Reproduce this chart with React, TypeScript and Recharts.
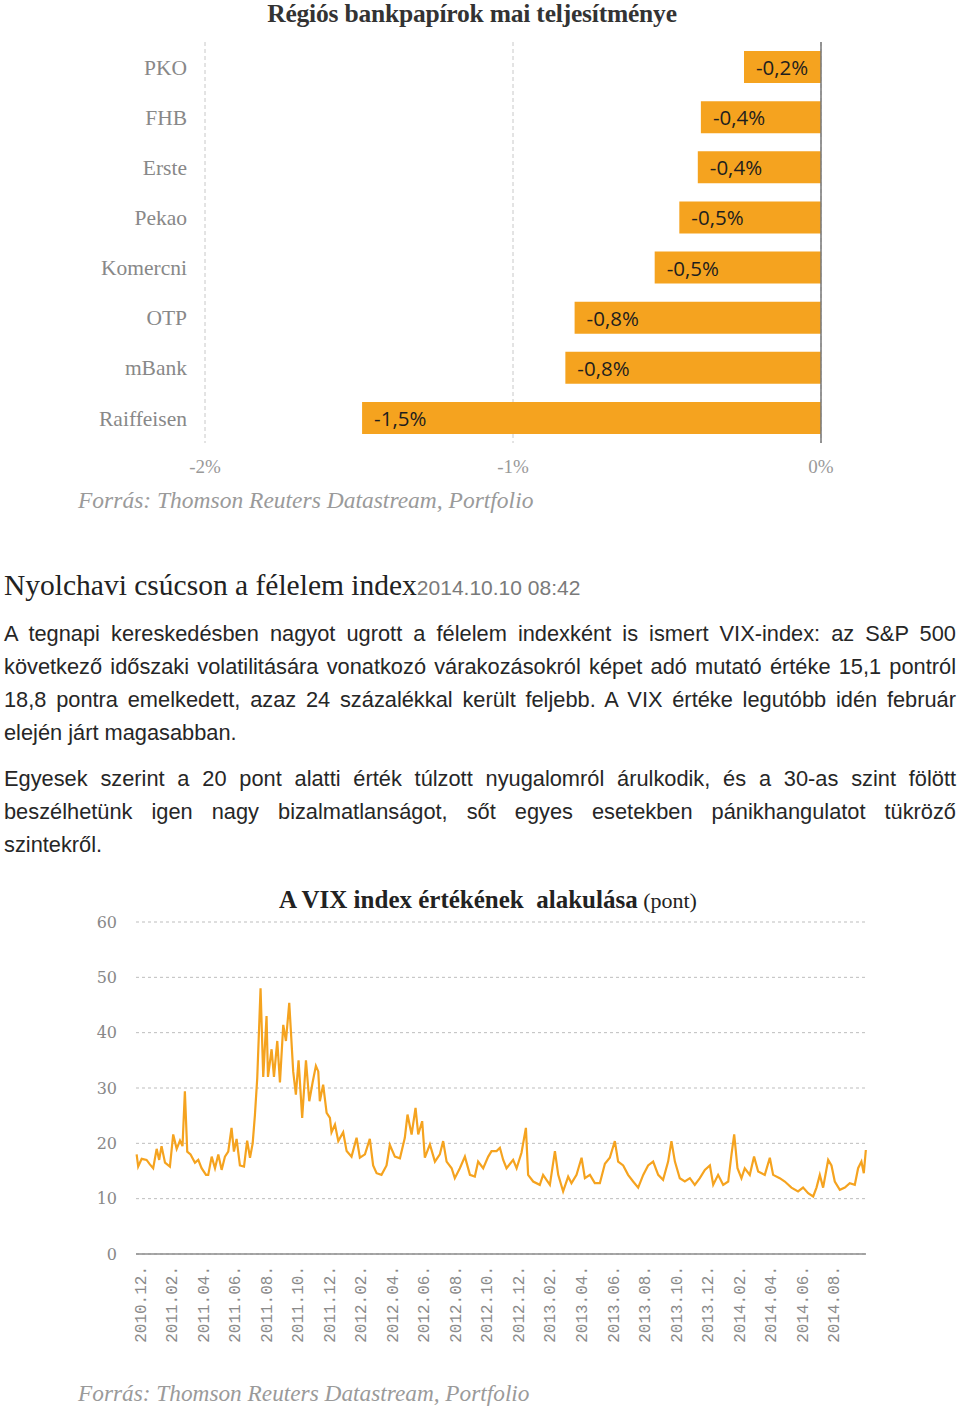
import React from 'react';
import {
  BarChart, Bar, XAxis, YAxis, CartesianGrid, ReferenceLine, LabelList,
  LineChart, Line,
} from 'recharts';

// ---- Top chart: regional bank shares ----
const bankNames = ['PKO', 'FHB', 'Erste', 'Pekao', 'Komercni', 'OTP', 'mBank', 'Raiffeisen'];
const bankChanges = [-0.25, -0.39, -0.40, -0.46, -0.54, -0.80, -0.83, -1.49];
const bankLabels = ['-0,2%', '-0,4%', '-0,4%', '-0,5%', '-0,5%', '-0,8%', '-0,8%', '-1,5%'];
const bankTicks = [-2, -1, 0];
const bankTickLabels = ['-2%', '-1%', '0%'];

// ---- Bottom chart: VIX (x = months since 2010.12.) ----
const vixMonths = [
  -0.21, -0.11, 0.11, 0.42, 0.63, 0.84, 1.06, 1.22, 1.37, 1.59, 1.90, 2.11, 2.33, 2.54, 2.70, 2.85,
  3.00, 3.21, 3.49, 3.70, 3.91, 4.19, 4.33, 4.55, 4.76, 4.97, 5.18, 5.39, 5.60, 5.81, 5.96, 6.13,
  6.34, 6.60, 6.80, 6.98, 7.15, 7.29, 7.44, 7.65, 7.82, 8.03, 8.12, 8.35, 8.50, 8.71, 8.88, 9.09,
  9.26, 9.47, 9.72, 9.89, 10.06, 10.29, 10.53, 10.74, 10.95, 11.16,
  11.31, 11.41, 11.62, 11.84, 12.05, 12.15, 12.37, 12.58, 12.89, 13.11, 13.42, 13.74, 13.95, 14.27,
  14.58, 14.79, 15.01, 15.32, 15.64, 15.85, 16.17, 16.49, 16.80, 16.97, 17.23, 17.48, 17.65, 17.90,
  18.07, 18.39, 18.71, 19.02, 19.23, 19.45, 19.77, 19.97, 20.29, 20.61, 20.93, 21.24, 21.45, 21.77,
  22.09, 22.30, 22.62, 22.83,
  23.04, 23.25, 23.67, 23.89, 24.20, 24.48, 24.62, 24.94, 25.36, 25.57, 26.00, 26.32, 26.53, 26.84,
  27.16, 27.37, 27.69, 28.01, 28.22, 28.54, 28.85, 29.17, 29.49, 29.80, 30.12, 30.33, 30.65, 30.96,
  31.28, 31.60, 31.92, 32.23, 32.55, 32.87, 33.18, 33.50, 33.71, 33.93, 34.24, 34.56,
  34.88, 35.19, 35.51, 35.83, 36.15, 36.36, 36.67, 36.99, 37.31, 37.52, 37.69, 37.90, 38.15, 38.36,
  38.68, 38.95, 39.21, 39.63, 39.95, 40.16, 40.58, 40.90, 41.32, 41.74, 42.06, 42.38, 42.70, 42.91,
  43.12, 43.33, 43.65, 43.86, 44.07, 44.39, 44.71, 45.02, 45.34, 45.55, 45.76, 45.91, 46.04,
];
const vixValues = [
  18, 15.8, 17.2, 17, 16.2, 15.5, 19, 17, 19.5, 16.5, 15.8, 21.6, 19, 20.5, 19.5, 29.4,
  18.5, 18, 16.5, 17, 15.5, 14.3, 14.3, 17.6, 15.5, 18, 15.2, 17.6, 18.5, 22.8, 18.5, 20.8,
  16, 15.8, 20.5, 17.4, 20, 25, 31.8, 48, 32, 43, 32, 37, 32, 38.5, 31, 41.4,
  38.5, 45.4, 33, 28.8, 35, 24.6, 35, 27.6, 31, 34,
  33, 27.6, 30.6, 25.5, 24.6, 22, 23.4, 20.4, 22, 18.6, 17.6, 21, 17.4, 18,
  20.8, 16, 14.6, 14.3, 16, 19.7, 17.6, 17.3, 21, 25.2, 21.6, 26.4, 21.6, 24,
  17.4, 19.8, 16.7, 18, 20.4, 16.7, 15.5, 13.7, 15.5, 17.6, 14.3, 14, 16.7, 15.5,
  17.6, 18.6, 18.6, 19.2,
  17, 15.5, 17, 15.5, 18.3, 22.8, 14.3, 13.1, 12.5, 14.3, 12.5, 18.6, 14.3, 11.3,
  14, 12.8, 14.3, 17.4, 13.7, 14.3, 12.8, 12.8, 16.3, 17.4, 20.4, 16.7, 16, 14.3,
  13.1, 12, 14.3, 16, 16.7, 14.3, 13.4, 16.7, 20.4, 16.7, 13.7, 13.1,
  13.7, 12.5, 13.7, 15.2, 16, 12.5, 14.3, 12.5, 13.1, 18, 21.6, 15.5, 13.7, 15.5,
  14.3, 17.6, 14.9, 14.3, 17.4, 14.3, 13.7, 13.1, 12, 11.3, 12, 11, 10.4, 12,
  14.3, 12, 17, 16, 13.1, 11.6, 12, 12.8, 12.5, 15.5, 16.7, 14.6, 18.8,
];
const vixTickMonths = [0, 2, 4, 6, 8, 10, 12, 14, 16, 18, 20, 22, 24, 26, 28, 30, 32, 34, 36, 38, 40, 42, 44];
const vixTickLabels = [
  '2010.12.', '2011.02.', '2011.04.', '2011.06.', '2011.08.', '2011.10.', '2011.12.',
  '2012.02.', '2012.04.', '2012.06.', '2012.08.', '2012.10.', '2012.12.',
  '2013.02.', '2013.04.', '2013.06.', '2013.08.', '2013.10.', '2013.12.',
  '2014.02.', '2014.04.', '2014.06.', '2014.08.',
];
const vixYTicks = [0, 10, 20, 30, 40, 50, 60];

const bankData = bankNames.map((name, i) => ({ name, value: bankChanges[i], label: bankLabels[i] }));
const n = Math.min(vixMonths.length, vixValues.length);
const vixData = vixMonths.slice(0, n).map((t, i) => ({ t, v: vixValues[i] }));

const ORANGE = '#F5A31F';

const BarValueLabel = (props: any) => {
  const { x, y, width, height, value } = props;
  const left = Math.min(Number(x), Number(x) + Number(width));
  return (
    <text x={left + 12} y={Number(y) + Number(height) / 2} dominantBaseline="central"
      fontFamily="'Open Sans', sans-serif" fontSize={20.5} fill="#1e1e1e">
      {value}
    </text>
  );
};

const VixTick = (props: any) => {
  const { x, y, payload } = props;
  const idx = vixTickMonths.indexOf(payload.value);
  return (
    <text x={x} y={y} transform={`rotate(-90, ${x}, ${y})`} textAnchor="end" dy="0.35em"
      fontFamily="'Liberation Mono', monospace" fontSize={16} fill="#8a8a8a">
      {idx >= 0 ? vixTickLabels[idx] : ''}
    </text>
  );
};

const para1 = [
  'A tegnapi kereskedésben nagyot ugrott a félelem indexként is ismert VIX-index: az S&P 500',
  'következő időszaki volatilitására vonatkozó várakozásokról képet adó mutató értéke 15,1 pontról',
  '18,8 pontra emelkedett, azaz 24 százalékkal került feljebb. A VIX értéke legutóbb idén február',
  'elején járt magasabban.',
];
const para2 = [
  'Egyesek szerint a 20 pont alatti érték túlzott nyugalomról árulkodik, és a 30-as szint fölött',
  'beszélhetünk igen nagy bizalmatlanságot, sőt egyes esetekben pánikhangulatot tükröző',
  'szintekről.',
];

const TextLine = ({ text, top, last }: { text: string; top: number; last: boolean }) => (
  <div style={{
    position: 'absolute', left: 4, top, width: 952, height: 33, lineHeight: '33px',
    fontFamily: "'Liberation Sans', Arial, sans-serif", fontSize: 21.8, color: '#262626',
    whiteSpace: 'nowrap', textAlign: last ? 'left' : 'justify',
    textAlignLast: last ? 'left' : 'justify',
  } as React.CSSProperties}>{text}</div>
);

export default function App() {
  return (
    <div style={{ position: 'absolute', left: 0, top: 0, width: 960, height: 1413, background: '#fff', overflow: 'hidden' }}>
      {/* Top chart title */}
      <div style={{
        position: 'absolute', left: 0, top: 0, width: 944, textAlign: 'center', lineHeight: '28px',
        fontFamily: "'Liberation Serif', serif", fontWeight: 'bold', fontSize: 25.5, color: '#333', letterSpacing: -0.2,
      }}>Régiós bankpapírok mai teljesítménye</div>

      <div style={{ position: 'absolute', left: 0, top: 0 }}>
        <BarChart width={960} height={490} layout="vertical" data={bankData}
          margin={{ top: 42, right: 139, bottom: 17, left: 105 }}>
          <CartesianGrid horizontal={false} strokeDasharray="4 3" stroke="#c8c8c8" />
          <XAxis type="number" domain={[-2, 0]} ticks={bankTicks} height={30}
            axisLine={false} tickLine={false} tickSize={0} tickMargin={17}
            tickFormatter={(v: number) => bankTickLabels[bankTicks.indexOf(v)]}
            tick={{ fontFamily: "'Liberation Serif', serif", fontSize: 19, fill: '#999' }} />
          <YAxis type="category" dataKey="name" width={100} axisLine={false} tickLine={false}
            tickSize={0} tickMargin={18}
            tick={{ fontFamily: "'Liberation Serif', serif", fontSize: 21.5, fill: '#888' }} />
          <ReferenceLine x={0} stroke="#777" strokeWidth={1.5} />
          <Bar dataKey="value" fill={ORANGE} barSize={32} isAnimationActive={false}>
            <LabelList dataKey="label" content={<BarValueLabel />} />
          </Bar>
        </BarChart>
      </div>

      <div style={{
        position: 'absolute', left: 78, top: 486, lineHeight: '28px', whiteSpace: 'nowrap',
        fontFamily: "'Liberation Serif', serif", fontStyle: 'italic', fontSize: 23.5, color: '#9a9a9a',
      }}>Forrás: Thomson Reuters Datastream, Portfolio</div>

      {/* Article text */}
      <div style={{
        position: 'absolute', left: 4, top: 569, lineHeight: '33px', whiteSpace: 'nowrap',
        fontFamily: "'Liberation Serif', serif", fontSize: 29.5, color: '#222',
      }}>
        Nyolchavi csúcson a félelem index
        <span style={{ fontFamily: "'Liberation Sans', Arial, sans-serif", fontSize: 21, color: '#7a7a7a' }}>2014.10.10 08:42</span>
      </div>
      {para1.map((t, i) => (
        <TextLine key={'a' + i} text={t} top={617 + 33 * i} last={i === para1.length - 1} />
      ))}
      {para2.map((t, i) => (
        <TextLine key={'b' + i} text={t} top={762 + 33 * i} last={i === para2.length - 1} />
      ))}

      {/* Bottom chart title */}
      <div style={{
        position: 'absolute', left: 0, top: 886, width: 976, textAlign: 'center', lineHeight: '28px',
        whiteSpace: 'nowrap', fontFamily: "'Liberation Serif', serif", fontSize: 25, color: '#222',
      }}>
        <span style={{ fontWeight: 'bold', whiteSpace: 'pre' }}>A VIX index értékének  alakulása</span>
        <span style={{ fontSize: 22 }}> (pont)</span>
      </div>

      <div style={{ position: 'absolute', left: 0, top: 880 }}>
        <LineChart width={960} height={480} data={vixData}
          margin={{ top: 42, right: 94, bottom: 6, left: 96 }}>
          <CartesianGrid vertical={false} strokeDasharray="3 3" stroke="#bdbdbd" />
          <XAxis type="number" dataKey="t" domain={[-0.25, 46.05]} ticks={vixTickMonths} interval={0}
            height={100} axisLine={{ stroke: '#8c8c8c', strokeWidth: 1.5 }} tickLine={false}
            tickSize={0} tickMargin={12} tick={<VixTick />} />
          <YAxis type="number" domain={[0, 60]} ticks={vixYTicks} width={40} axisLine={false}
            tickLine={false} tickSize={0} tickMargin={19}
            tick={{ fontFamily: "'DejaVu Serif', serif", fontSize: 16, fill: '#888' }} />
          <Line type="linear" dataKey="v" stroke={ORANGE} strokeWidth={2.2} dot={false}
            isAnimationActive={false} />
        </LineChart>
      </div>

      <div style={{
        position: 'absolute', left: 78, top: 1379, lineHeight: '28px', whiteSpace: 'nowrap',
        fontFamily: "'Liberation Serif', serif", fontStyle: 'italic', fontSize: 23.3, color: '#9a9a9a',
      }}>Forrás: Thomson Reuters Datastream, Portfolio</div>
    </div>
  );
}
